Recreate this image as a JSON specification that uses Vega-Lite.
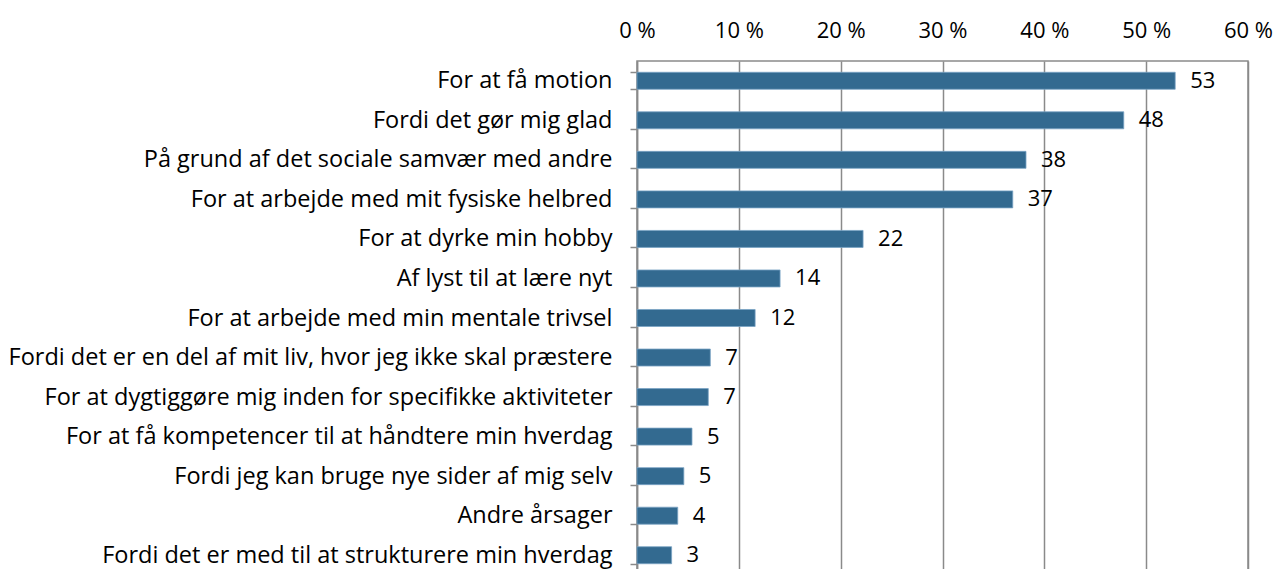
{
  "$schema": "https://vega.github.io/schema/vega-lite/v6.json",
  "width": 611,
  "height": 514,
  "autosize": {"type": "none"},
  "padding": {"left": 637, "top": 61, "right": 28, "bottom": 0},
  "background": "white",
  "config": {
    "view": {"stroke": "#8a8a8a", "strokeWidth": 1.5},
    "font": "Open Sans"
  },
  "data": {
    "values": [
      {"reason": "For at få motion", "value": 52.85},
      {"reason": "Fordi det gør mig glad", "value": 47.8},
      {"reason": "På grund af det sociale samvær med andre", "value": 38.2},
      {"reason": "For at arbejde med mit fysiske helbred", "value": 36.9},
      {"reason": "For at dyrke min hobby", "value": 22.2},
      {"reason": "Af lyst til at lære nyt", "value": 14.05},
      {"reason": "For at arbejde med min mentale trivsel", "value": 11.6},
      {"reason": "Fordi det er en del af mit liv, hvor jeg ikke skal præstere", "value": 7.2},
      {"reason": "For at dygtiggøre mig inden for specifikke aktiviteter", "value": 7.0},
      {"reason": "For at få kompetencer til at håndtere min hverdag", "value": 5.4},
      {"reason": "Fordi jeg kan bruge nye sider af mig selv", "value": 4.6},
      {"reason": "Andre årsager", "value": 4.0},
      {"reason": "Fordi det er med til at strukturere min hverdag", "value": 3.4}
    ]
  },
  "encoding": {
    "y": {
      "field": "reason",
      "type": "nominal",
      "sort": null,
      "title": null,
      "scale": {"paddingInner": 0.57, "paddingOuter": 0.285},
      "axis": {
        "tickBand": "extent",
        "domainColor": "#8a8a8a",
        "domainWidth": 1.5,
        "tickColor": "#8a8a8a",
        "tickWidth": 1.5,
        "tickSize": 7,
        "labelPadding": 18,
        "labelFontSize": 23.5,
        "labelColor": "#000000",
        "labelFont": "Open Sans",
        "labelLimit": 700
      }
    }
  },
  "layer": [
    {
      "mark": {"type": "bar", "fill": "#336a90", "stroke": "#7aa3c4", "strokeWidth": 0.8},
      "encoding": {
        "x": {
          "field": "value",
          "type": "quantitative",
          "scale": {"domain": [0, 60], "nice": false},
          "title": null,
          "axis": {
            "orient": "top",
            "values": [0, 10, 20, 30, 40, 50, 60],
            "labelExpr": "datum.value + ' %'",
            "ticks": false,
            "domain": false,
            "grid": true,
            "gridColor": "#8a8a8a",
            "gridWidth": 1.5,
            "gridOpacity": 1,
            "labelPadding": 19,
            "labelFontSize": 22,
            "labelColor": "#000000",
            "labelFont": "Open Sans",
            "labelFlush": false
          }
        }
      }
    },
    {
      "mark": {"type": "text", "align": "left", "baseline": "middle", "dx": 15, "fontSize": 22, "color": "#000000", "font": "Open Sans"},
      "encoding": {
        "x": {"field": "value", "type": "quantitative"},
        "text": {"field": "value", "type": "quantitative", "format": ".0f"}
      }
    }
  ]
}
